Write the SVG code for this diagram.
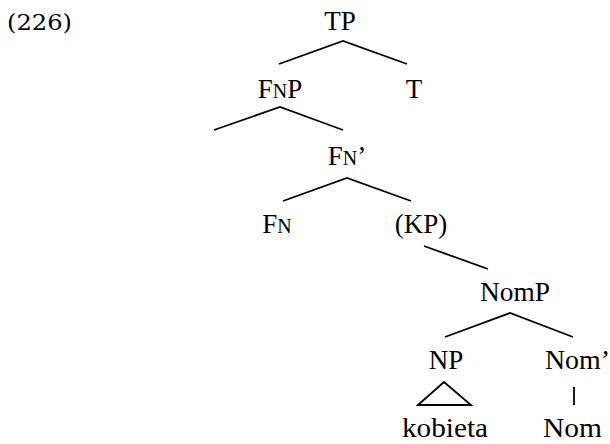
<svg xmlns="http://www.w3.org/2000/svg" width="610" height="444" viewBox="0 0 610 444">
<style>
.t{font-family:"Liberation Serif","Times New Roman",serif;font-size:27px;fill:#000;text-anchor:middle}
.sc{font-size:20px}
.e{stroke:#000;stroke-width:1.8;fill:none;stroke-linecap:butt}
.num{font-family:"DejaVu Serif","Liberation Serif",serif;font-size:23px;fill:#000}
</style>
<rect width="610" height="444" fill="#fff"/>
<text class="num" x="7" y="30" textLength="65" lengthAdjust="spacingAndGlyphs">(226)</text>
<g id="TP"><text class="t" x="340" y="30">TP</text></g>
<g id="FnP"><text class="t" x="280" y="98">F<tspan class="sc">N</tspan>P</text></g>
<g id="T"><text class="t" x="414" y="98">T</text></g>
<g id="FnBar"><text class="t" x="347" y="165">F<tspan class="sc">N</tspan>’</text></g>
<g id="Fn"><text class="t" x="277" y="233">F<tspan class="sc">N</tspan></text></g>
<g id="KP"><text class="t" x="421" y="233">(KP)</text></g>
<g id="NomP"><text class="t" x="515" y="301" textLength="70" lengthAdjust="spacingAndGlyphs">NomP</text></g>
<g id="NP"><text class="t" x="446" y="369">NP</text></g>
<g id="NomBar"><text class="t" x="545" y="369" style="text-anchor:start" textLength="65" lengthAdjust="spacingAndGlyphs">Nom’</text></g>
<g id="kobieta"><text class="t" x="445" y="437" textLength="86" lengthAdjust="spacingAndGlyphs">kobieta</text></g>
<g id="Nom"><text class="t" x="543" y="437" style="text-anchor:start" textLength="59" lengthAdjust="spacingAndGlyphs">Nom</text></g>
<g id="connectors">
<path class="e" d="M279,64 L343,41 L407,64"/>
<path class="e" d="M214,130 L280,107 L343,130"/>
<path class="e" d="M283,201 L347,178 L411,201"/>
<path class="e" d="M424,246 L488,269"/>
<path class="e" d="M445,337 L510,313 L573,337"/>
<path class="e" d="M418,405 L444,382 L471,405 Z"/>
<path class="e" d="M574,387 L574,405"/>
</g>
</svg>
